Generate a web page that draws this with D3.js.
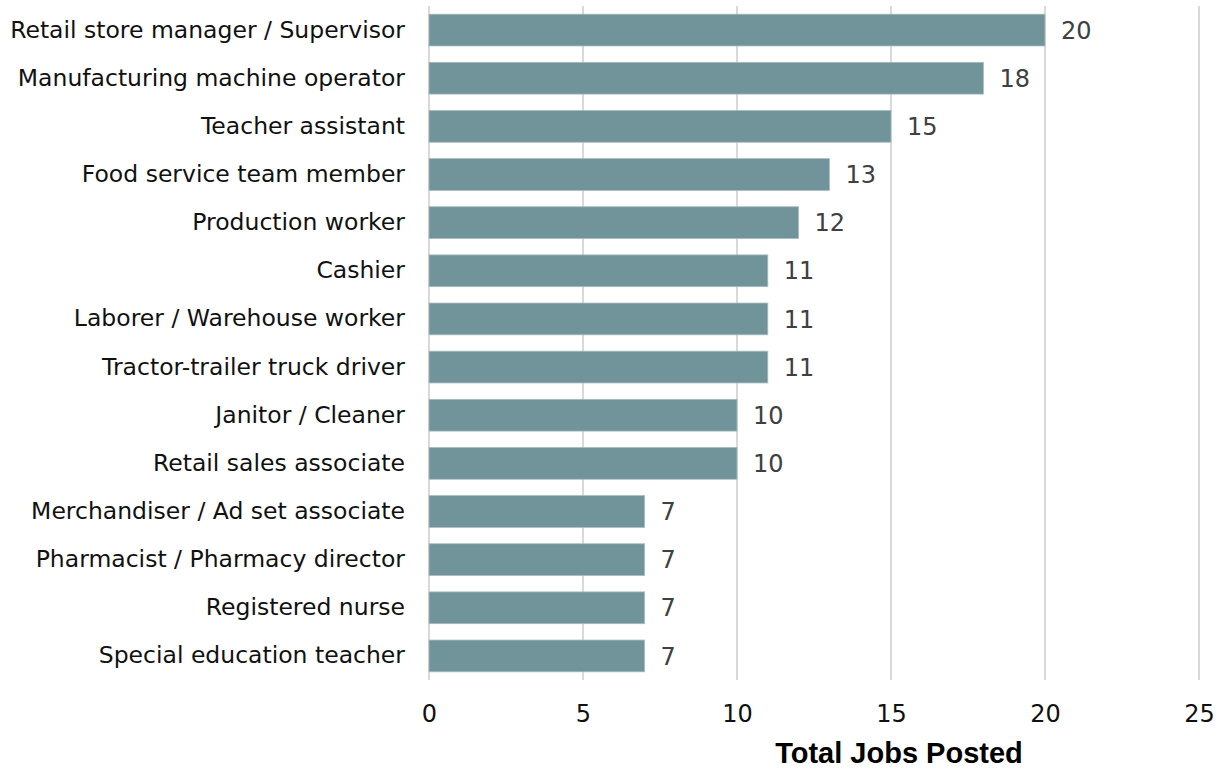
<!DOCTYPE html>
<html>
<head>
<meta charset="utf-8">
<script src="https://cdn.jsdelivr.net/npm/d3@7"></script>
<style>
  body { margin: 0; background: #fff; }
  text { font-family: "DejaVu Sans", "Liberation Sans", Arial, sans-serif; }
</style>
</head>
<body>
<div id="chart"></div>
<script>
var jobs = ["Retail store manager / Supervisor", "Manufacturing machine operator",
  "Teacher assistant", "Food service team member", "Production worker", "Cashier",
  "Laborer / Warehouse worker", "Tractor-trailer truck driver", "Janitor / Cleaner",
  "Retail sales associate", "Merchandiser / Ad set associate",
  "Pharmacist / Pharmacy director", "Registered nurse", "Special education teacher"];
var counts = [20, 18, 15, 13, 12, 11, 11, 11, 10, 10, 7, 7, 7, 7];
var xTicks = [0, 5, 10, 15, 20, 25];

var W = 1224, H = 769;
var margin = {top: 6, right: 25, bottom: 89, left: 429};
var width = W - margin.left - margin.right,
    height = H - margin.top - margin.bottom;
var font = "DejaVu Sans, Liberation Sans, Arial, sans-serif";

var x = d3.scaleLinear().domain([0, 25]).range([0, width]);
var y = d3.scaleBand().domain(jobs).range([0, height]).paddingInner(0.34).paddingOuter(0.17);

var svg = d3.select("#chart").append("svg")
  .attr("width", W).attr("height", H)
  .append("g")
  .attr("transform", "translate(" + margin.left + "," + margin.top + ")");

// gridlines
svg.selectAll(".grid").data(xTicks).enter().append("line")
  .attr("x1", function(d) { return x(d); })
  .attr("x2", function(d) { return x(d); })
  .attr("y1", 0).attr("y2", height)
  .attr("stroke", "#d9d9d9").attr("stroke-width", 2);

svg.selectAll(".bar").data(counts).enter().append("rect")
  .attr("x", x(0))
  .attr("y", function(d, i) { return y(jobs[i]); })
  .attr("width", function(d) { return x(d) - x(0); })
  .attr("height", y.bandwidth())
  .attr("fill", "#71939a")
  .attr("stroke", "#a7bcc0").attr("stroke-width", 0.8);

svg.selectAll(".val").data(counts).enter().append("text")
  .attr("x", function(d) { return x(d) + 16; })
  .attr("y", function(d, i) { return y(jobs[i]) + y.bandwidth() / 2; })
  .attr("dy", "0.36em")
  .attr("font-size", 24)
  .attr("fill", "#404040")
  .text(function(d) { return d; });

var yAxis = svg.append("g")
  .call(d3.axisLeft(y).tickSize(0).tickPadding(24));
yAxis.select(".domain").remove();
yAxis.selectAll("text").attr("font-size", 23.5).attr("fill", "#111")
  .style("font-family", font);

var xAxis = svg.append("g")
  .attr("transform", "translate(0," + height + ")")
  .call(d3.axisBottom(x).tickValues(xTicks).tickSize(0).tickPadding(25));
xAxis.select(".domain").remove();
xAxis.selectAll("text").attr("font-size", 24).attr("fill", "#111")
  .style("font-family", font);

svg.append("text")
  .attr("x", 899 - margin.left)
  .attr("y", 763 - margin.top)
  .attr("text-anchor", "middle")
  .attr("font-size", 29)
  .attr("font-weight", "bold")
  .attr("fill", "#000")
  .style("font-family", "Liberation Sans, Arial, sans-serif")
  .text("Total Jobs Posted");
</script>
</body>
</html>
